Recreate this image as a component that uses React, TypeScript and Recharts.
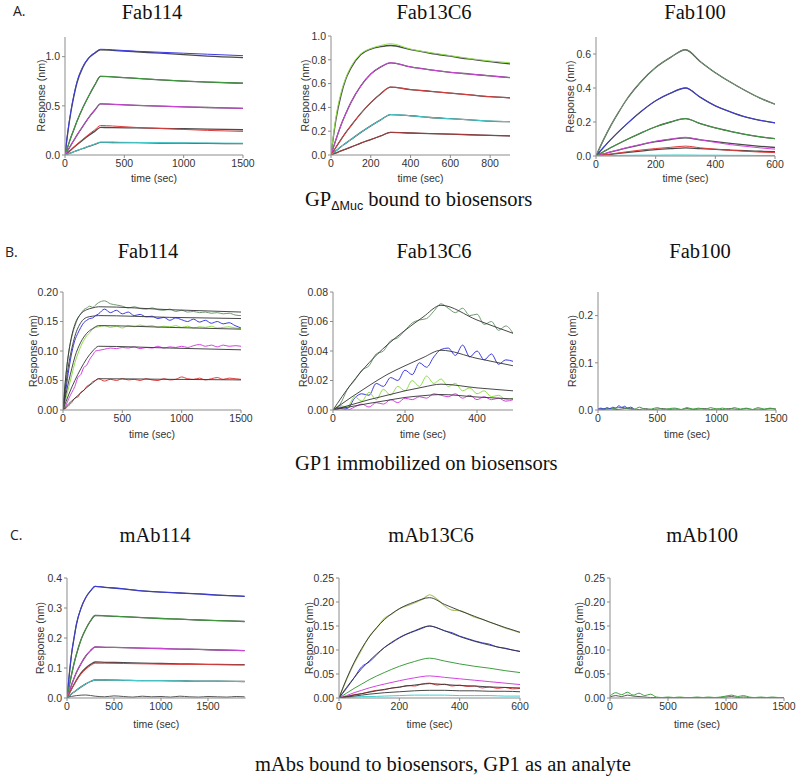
import React from 'react';
import { LineChart, Line, XAxis, YAxis } from 'recharts';

// ---------- Colours ----------
const BLUE = '#3b3be6';
const GREEN = '#3f9f3f';
const LGREEN = '#8fdc4a';
const MAGENTA = '#d444e0';
const RED = '#e23c3c';
const CYAN = '#45cfd0';
const GRAYGREEN = '#6f9a70';
const BROWN = '#a83a3a';
const OLIVE = '#a9c46a';
const FIT = '#4a4a4a';

// ---------- A1: Fab114 (GP dMuc) ----------
const A1_T = [0, 25, 50, 75, 100, 150, 200, 250, 300, 400, 600, 800, 1000, 1200, 1500];
const A1_BLUE = [0, 0.25, 0.45, 0.61, 0.74, 0.9, 0.99, 1.04, 1.075, 1.07, 1.055, 1.045, 1.035, 1.025, 1.01];
const A1_BLUE_FIT = [0, 0.24, 0.44, 0.6, 0.73, 0.89, 0.985, 1.035, 1.07, 1.065, 1.05, 1.035, 1.02, 1.005, 0.99];
const A1_GREEN = [0, 0.09, 0.18, 0.26, 0.34, 0.48, 0.6, 0.71, 0.8, 0.795, 0.78, 0.765, 0.752, 0.742, 0.73];
const A1_MAGENTA = [0, 0.05, 0.1, 0.15, 0.2, 0.29, 0.38, 0.455, 0.52, 0.515, 0.505, 0.497, 0.49, 0.483, 0.475];
const A1_RED = [0, 0.028, 0.055, 0.083, 0.11, 0.16, 0.21, 0.255, 0.3, 0.295, 0.28, 0.27, 0.26, 0.25, 0.24];
const A1_RED_FIT = [0, 0.026, 0.052, 0.078, 0.104, 0.152, 0.198, 0.24, 0.28, 0.279, 0.275, 0.271, 0.267, 0.263, 0.257];
const A1_CYAN = [0, 0.011, 0.022, 0.033, 0.045, 0.067, 0.09, 0.11, 0.13, 0.13, 0.128, 0.126, 0.124, 0.122, 0.12];
const A1_CYAN_FIT = [0, 0.011, 0.022, 0.033, 0.044, 0.066, 0.088, 0.108, 0.128, 0.127, 0.125, 0.122, 0.12, 0.118, 0.115];

// ---------- A2: Fab13C6 ----------
const A2_T = [0, 25, 50, 75, 100, 150, 200, 250, 300, 400, 500, 600, 700, 800, 900];
const A2_TOP = [0, 0.32, 0.52, 0.65, 0.74, 0.85, 0.895, 0.92, 0.935, 0.89, 0.86, 0.835, 0.81, 0.79, 0.775];
const A2_TOP_FIT = [0, 0.3, 0.5, 0.64, 0.73, 0.845, 0.89, 0.91, 0.92, 0.885, 0.855, 0.83, 0.805, 0.785, 0.765];
const A2_MAGENTA = [0, 0.13, 0.25, 0.35, 0.44, 0.58, 0.68, 0.74, 0.775, 0.74, 0.715, 0.695, 0.68, 0.665, 0.65];
const A2_RED = [0, 0.065, 0.13, 0.19, 0.245, 0.35, 0.44, 0.515, 0.57, 0.55, 0.535, 0.52, 0.505, 0.49, 0.48];
const A2_CYAN = [0, 0.035, 0.07, 0.1, 0.13, 0.19, 0.245, 0.295, 0.34, 0.33, 0.315, 0.305, 0.295, 0.285, 0.28];
const A2_BROWN = [0, 0.017, 0.034, 0.05, 0.066, 0.1, 0.13, 0.16, 0.19, 0.185, 0.18, 0.175, 0.17, 0.165, 0.16];

// ---------- A3: Fab100 ----------
const A3_T = [0, 25, 50, 75, 100, 150, 200, 250, 300, 350, 400, 450, 500, 550, 600];
const A3_TOP = [0, 0.095, 0.18, 0.255, 0.325, 0.435, 0.52, 0.58, 0.625, 0.555, 0.49, 0.435, 0.385, 0.34, 0.305];
const A3_BLUE = [0, 0.05, 0.098, 0.142, 0.183, 0.26, 0.325, 0.37, 0.4, 0.345, 0.295, 0.26, 0.23, 0.21, 0.195];
const A3_GREEN = [0, 0.025, 0.05, 0.072, 0.094, 0.135, 0.172, 0.2, 0.22, 0.19, 0.165, 0.145, 0.127, 0.113, 0.102];
const A3_MAGENTA = [0, 0.012, 0.025, 0.036, 0.048, 0.068, 0.087, 0.1, 0.11, 0.095, 0.08, 0.067, 0.057, 0.048, 0.04];
const A3_MAG_FIT = [0, 0.012, 0.024, 0.035, 0.046, 0.066, 0.084, 0.097, 0.107, 0.095, 0.084, 0.074, 0.065, 0.057, 0.05];
const A3_RED = [0, 0.006, 0.012, 0.018, 0.024, 0.035, 0.044, 0.051, 0.058, 0.048, 0.04, 0.033, 0.028, 0.023, 0.02];
const A3_RED_FIT = [0, 0.005, 0.01, 0.015, 0.02, 0.029, 0.037, 0.043, 0.048, 0.043, 0.039, 0.035, 0.031, 0.028, 0.025];
const A3_CYAN = [0, 0.002, 0.003, 0.004, 0.004, 0.005, 0.005, 0.006, 0.006, 0.005, 0.005, 0.004, 0.004, 0.003, 0.003];

// ---------- B1: Fab114 (GP1 immobilized) ----------
const B1_T = [0, 25, 50, 75, 100, 125, 150, 175, 200, 225, 250, 275, 300, 350, 400, 450, 500, 550, 600, 650, 700, 750, 800, 850, 900, 950, 1000, 1050, 1100, 1150, 1200, 1250, 1300, 1350, 1400, 1450, 1500];
const B1_GG = [0, 0.06, 0.1, 0.125, 0.142, 0.155, 0.163, 0.17, 0.173, 0.176, 0.174, 0.178, 0.182, 0.185, 0.18, 0.178, 0.176, 0.173, 0.175, 0.172, 0.171, 0.173, 0.17, 0.169, 0.171, 0.167, 0.169, 0.166, 0.167, 0.165, 0.166, 0.164, 0.165, 0.163, 0.164, 0.161, 0.16];
const B1_BLUE = [0, 0.035, 0.07, 0.098, 0.118, 0.13, 0.14, 0.148, 0.152, 0.155, 0.156, 0.16, 0.163, 0.171, 0.165, 0.169, 0.163, 0.166, 0.16, 0.162, 0.158, 0.159, 0.155, 0.157, 0.152, 0.156, 0.153, 0.15, 0.154, 0.149, 0.152, 0.147, 0.15, 0.146, 0.148, 0.143, 0.139];
const B1_LG = [0, 0.02, 0.04, 0.06, 0.08, 0.095, 0.108, 0.118, 0.126, 0.131, 0.137, 0.14, 0.141, 0.143, 0.14, 0.142, 0.139, 0.143, 0.141, 0.144, 0.142, 0.143, 0.14, 0.142, 0.141, 0.143, 0.14, 0.142, 0.139, 0.141, 0.14, 0.142, 0.139, 0.14, 0.141, 0.139, 0.138];
const B1_MAG = [0, 0.008, 0.02, 0.03, 0.04, 0.055, 0.06, 0.072, 0.076, 0.086, 0.093, 0.1, 0.101, 0.103, 0.105, 0.104, 0.106, 0.105, 0.107, 0.104, 0.106, 0.105, 0.108, 0.105, 0.107, 0.106, 0.108, 0.106, 0.109, 0.111, 0.108, 0.11, 0.107, 0.11, 0.108, 0.109, 0.108];
const B1_RED = [0, 0.003, 0.008, 0.013, 0.02, 0.022, 0.03, 0.033, 0.04, 0.043, 0.048, 0.05, 0.053, 0.049, 0.052, 0.05, 0.053, 0.051, 0.052, 0.05, 0.053, 0.051, 0.05, 0.053, 0.051, 0.052, 0.056, 0.053, 0.052, 0.054, 0.051, 0.053, 0.055, 0.052, 0.054, 0.053, 0.052];
const B1_FT = [0, 25, 50, 75, 100, 150, 200, 250, 300, 900, 1500];
const B1_F1 = [0, 0.06, 0.1, 0.127, 0.145, 0.163, 0.17, 0.173, 0.175, 0.17, 0.166];
const B1_F2 = [0, 0.045, 0.08, 0.105, 0.125, 0.148, 0.157, 0.159, 0.16, 0.157, 0.155];
const B1_F3 = [0, 0.027, 0.05, 0.071, 0.09, 0.115, 0.13, 0.138, 0.143, 0.14, 0.137];
const B1_F4 = [0, 0.014, 0.027, 0.039, 0.05, 0.07, 0.087, 0.1, 0.108, 0.105, 0.102];
const B1_F5 = [0, 0.0055, 0.011, 0.0155, 0.02, 0.029, 0.038, 0.046, 0.053, 0.052, 0.051];

// ---------- B2: Fab13C6 ----------
const B2_T = [0, 20, 40, 60, 80, 100, 120, 140, 160, 180, 200, 220, 240, 260, 280, 300, 320, 340, 360, 380, 400, 420, 440, 460, 480, 500];
const B2_GG = [0, 0.004, 0.014, 0.02, 0.027, 0.03, 0.038, 0.04, 0.047, 0.049, 0.054, 0.059, 0.061, 0.062, 0.067, 0.072, 0.069, 0.066, 0.069, 0.064, 0.065, 0.058, 0.06, 0.054, 0.057, 0.052];
const B2_BLUE = [0, 0.002, 0.001, 0.008, 0.011, 0.01, 0.018, 0.016, 0.022, 0.02, 0.027, 0.024, 0.032, 0.029, 0.036, 0.041, 0.042, 0.037, 0.044, 0.036, 0.04, 0.034, 0.038, 0.031, 0.034, 0.033];
const B2_LG = [0, 0.003, 0.002, 0.009, 0.006, 0.012, 0.007, 0.014, 0.01, 0.016, 0.013, 0.02, 0.016, 0.023, 0.018, 0.021, 0.016, 0.018, 0.013, 0.015, 0.011, 0.013, 0.009, 0.01, 0.007, 0.008];
const B2_MAG = [0, 0.001, 0, 0.002, 0.004, 0.002, 0.005, 0.004, 0.007, 0.005, 0.008, 0.007, 0.009, 0.008, 0.011, 0.01, 0.009, 0.011, 0.008, 0.01, 0.007, 0.009, 0.007, 0.008, 0.006, 0.007];
const B2_FT = [0, 50, 100, 150, 200, 250, 300, 400, 500];
const B2_F1 = [0, 0.0175, 0.032, 0.044, 0.054, 0.063, 0.071, 0.061, 0.052];
const B2_F2 = [0, 0.0085, 0.0165, 0.024, 0.03, 0.0355, 0.0405, 0.035, 0.03];
const B2_F3 = [0, 0.0035, 0.007, 0.01, 0.013, 0.0155, 0.0175, 0.015, 0.013];
const B2_F4 = [0, 0.0023, 0.0045, 0.0065, 0.0085, 0.0097, 0.0105, 0.0088, 0.0075];

// ---------- B3: Fab100 ----------
const B3_T = [0, 50, 100, 150, 200, 250, 300, 350, 400, 450, 500, 550, 600, 650, 700, 750, 800, 850, 900, 950, 1000, 1050, 1100, 1150, 1200, 1250, 1300, 1350, 1400, 1450, 1500];
const B3_GREEN = [0.001, 0.003, 0.002, 0.004, 0.006, 0.003, 0.001, 0.006, 0.001, 0.002, 0.005, 0.001, 0.003, 0.004, 0.001, 0.005, 0.002, 0.004, 0.001, 0.005, 0.002, 0.004, 0.001, 0.005, 0.002, 0.004, 0.001, 0.005, 0.002, 0.004, 0.001];
const B3_DARK = [0.002, 0.001, 0.003, 0.001, 0.002, 0.004, 0.002, 0.001, 0.003, 0.001, 0.002, 0.003, 0.001, 0.002, 0.001, 0.003, 0.001, 0.002, 0.003, 0.001, 0.002, 0.001, 0.003, 0.002, 0.001, 0.003, 0.001, 0.002, 0.001, 0.003, 0.002];
const B3_BT = [0, 25, 50, 75, 100, 125, 150, 175, 200, 225, 250, 275, 300];
const B3_BLUE = [0.002, 0.004, 0.002, 0.005, 0.003, 0.006, 0.004, 0.009, 0.005, 0.008, 0.004, 0.006, 0.003];

// ---------- C1: mAb114 ----------
const C1_T = [0, 25, 50, 75, 100, 150, 200, 250, 300, 400, 600, 800, 1000, 1200, 1400, 1600, 1890];
const C1_BLUE = [0, 0.08, 0.15, 0.2, 0.245, 0.3, 0.335, 0.357, 0.372, 0.369, 0.364, 0.357, 0.353, 0.35, 0.347, 0.343, 0.339];
const C1_GREEN = [0, 0.042, 0.08, 0.115, 0.145, 0.195, 0.23, 0.257, 0.275, 0.274, 0.271, 0.268, 0.265, 0.263, 0.26, 0.258, 0.255];
const C1_MAGENTA = [0, 0.023, 0.045, 0.066, 0.085, 0.115, 0.14, 0.158, 0.17, 0.169, 0.168, 0.166, 0.165, 0.163, 0.162, 0.16, 0.158];
const C1_RED = [0, 0.015, 0.03, 0.044, 0.057, 0.08, 0.096, 0.108, 0.116, 0.116, 0.115, 0.114, 0.113, 0.112, 0.112, 0.111, 0.11];
const C1_RED_FIT = [0, 0.016, 0.031, 0.046, 0.06, 0.084, 0.1, 0.112, 0.12, 0.119, 0.118, 0.116, 0.115, 0.114, 0.113, 0.112, 0.111];
const C1_CYAN = [0, 0.007, 0.014, 0.02, 0.026, 0.037, 0.047, 0.055, 0.06, 0.06, 0.059, 0.058, 0.058, 0.057, 0.056, 0.056, 0.055];
const C1_NT = [0, 100, 200, 300, 400, 500, 600, 700, 800, 900, 1000, 1100, 1200, 1300, 1400, 1500, 1600, 1700, 1800, 1890];
const C1_DARK = [0.002, 0.008, 0.01, 0.006, 0.004, 0.007, 0.005, 0.003, 0.006, 0.004, 0.005, 0.003, 0.006, 0.004, 0.003, 0.005, 0.004, 0.003, 0.005, 0.004];

// ---------- C2: mAb13C6 ----------
const C2_T = [0, 25, 50, 75, 100, 125, 150, 175, 200, 225, 250, 275, 300, 325, 350, 375, 400, 425, 450, 475, 500, 525, 550, 575, 600];
const C2_TOP = [0, 0.038, 0.072, 0.1, 0.128, 0.146, 0.166, 0.175, 0.186, 0.192, 0.198, 0.205, 0.215, 0.206, 0.192, 0.183, 0.182, 0.176, 0.168, 0.164, 0.158, 0.152, 0.146, 0.141, 0.136];
const C2_BLUE = [0, 0.02, 0.042, 0.065, 0.075, 0.09, 0.105, 0.115, 0.125, 0.133, 0.139, 0.145, 0.15, 0.146, 0.14, 0.136, 0.129, 0.124, 0.119, 0.115, 0.112, 0.106, 0.104, 0.1, 0.097];
const C2_RED = [0, 0.003, 0.007, 0.009, 0.013, 0.016, 0.017, 0.021, 0.022, 0.026, 0.025, 0.029, 0.031, 0.027, 0.029, 0.025, 0.027, 0.024, 0.025, 0.021, 0.023, 0.02, 0.022, 0.019, 0.02];
const C2_FT = [0, 25, 50, 75, 100, 150, 200, 250, 300, 350, 400, 450, 500, 550, 600];
const C2_TOP_FIT = [0, 0.04, 0.074, 0.103, 0.127, 0.163, 0.186, 0.2, 0.209, 0.195, 0.182, 0.17, 0.158, 0.147, 0.137];
const C2_BLUE_FIT = [0, 0.022, 0.042, 0.061, 0.077, 0.105, 0.126, 0.14, 0.15, 0.14, 0.128, 0.118, 0.11, 0.103, 0.097];
const C2_GREEN = [0, 0.01, 0.02, 0.029, 0.038, 0.053, 0.066, 0.076, 0.083, 0.077, 0.071, 0.066, 0.062, 0.057, 0.053];
const C2_MAGENTA = [0, 0.005, 0.011, 0.016, 0.021, 0.029, 0.036, 0.042, 0.046, 0.043, 0.04, 0.037, 0.034, 0.031, 0.028];
const C2_RED_FIT = [0, 0.003, 0.006, 0.009, 0.012, 0.018, 0.023, 0.027, 0.03, 0.028, 0.026, 0.025, 0.023, 0.022, 0.021];
const C2_DARK = [0, 0.002, 0.004, 0.006, 0.008, 0.011, 0.013, 0.015, 0.016, 0.016, 0.015, 0.015, 0.014, 0.014, 0.013];
const C2_CYAN = [0, 0.001, 0.002, 0.003, 0.003, 0.004, 0.005, 0.006, 0.006, 0.006, 0.005, 0.005, 0.005, 0.004, 0.004];

// ---------- C3: mAb100 ----------
const C3_T = [0, 50, 100, 150, 200, 250, 300, 350, 400, 450, 500, 550, 600, 650, 700, 750, 800, 850, 900, 950, 1000, 1050, 1100, 1150, 1200, 1250, 1300, 1350, 1400, 1450, 1500];
const C3_GREEN = [0.004, 0.011, 0.007, 0.012, 0.006, 0.01, 0.005, 0.008, 0.002, 0.001, 0.002, 0.001, 0.002, 0.001, 0.001, 0.002, 0.001, 0.002, 0.001, 0.002, 0.004, 0.006, 0.003, 0.005, 0.002, 0.001, 0.002, 0.001, 0.002, 0.001, 0.001];
const C3_DARK = [0.002, 0.005, 0.003, 0.006, 0.004, 0.003, 0.002, 0.001, 0.001, 0.001, 0.001, 0.001, 0.001, 0.001, 0.001, 0.001, 0.001, 0.001, 0.001, 0.001, 0.002, 0.003, 0.001, 0.002, 0.001, 0.001, 0.001, 0.001, 0.001, 0.001, 0.001];

// ---------- Text ----------
const TITLES_A = ['Fab114', 'Fab13C6', 'Fab100'];
const TITLES_B = ['Fab114', 'Fab13C6', 'Fab100'];
const TITLES_C = ['mAb114', 'mAb13C6', 'mAb100'];
const Y_LABEL = 'Response (nm)';
const X_LABEL = 'time (sec)';

type S = { t: number[]; v: number[]; c: string; w: number };
type PanelCfg = {
  box: { x0: number; x1: number; yTop: number; yBot: number };
  xDomain: [number, number];
  xTicks: number[];
  yDomain: [number, number];
  yTicks: number[];
  dec: number;
  series: S[];
  title: string;
  titleX: number;
  titleY: number;
  yLabelX: number;
  xLabelY: number;
};

const d = (t: number[], v: number[], c: string, w = 1): S => ({ t, v, c, w });
const f = (t: number[], v: number[], w = 1.3): S => ({ t, v, c: FIT, w });
const fTop = (t: number[], v: number[]): S => ({ t, v, c: '#333', w: 0.9 });

const PANELS: PanelCfg[] = [
  {
    box: { x0: 65, x1: 243, yTop: 36.5, yBot: 154.5 }, xDomain: [0, 1500], xTicks: [0, 500, 1000, 1500],
    yDomain: [0, 1.2], yTicks: [0, 0.5, 1.0], dec: 1, title: TITLES_A[0], titleX: 152, titleY: 18.5, yLabelX: 41, xLabelY: 182,
    series: [
      f(A1_T, A1_BLUE_FIT), f(A1_T, A1_GREEN), f(A1_T, A1_MAGENTA), f(A1_T, A1_RED_FIT), f(A1_T, A1_CYAN_FIT),
      d(A1_T, A1_BLUE, BLUE), d(A1_T, A1_GREEN, GREEN), d(A1_T, A1_MAGENTA, MAGENTA), d(A1_T, A1_RED, RED), d(A1_T, A1_CYAN, CYAN),
    ],
  },
  {
    box: { x0: 331, x1: 510, yTop: 36, yBot: 155 }, xDomain: [0, 900], xTicks: [0, 200, 400, 600, 800],
    yDomain: [0, 1.0], yTicks: [0, 0.2, 0.4, 0.6, 0.8, 1.0], dec: 1, title: TITLES_A[1], titleX: 434, titleY: 18.5, yLabelX: 305, xLabelY: 182,
    series: [
      f(A2_T, A2_TOP_FIT), f(A2_T, A2_MAGENTA), f(A2_T, A2_RED), f(A2_T, A2_CYAN), f(A2_T, A2_BROWN),
      d(A2_T, A2_TOP, LGREEN), d(A2_T, A2_MAGENTA, MAGENTA), d(A2_T, A2_RED, RED), d(A2_T, A2_CYAN, CYAN), d(A2_T, A2_BROWN, BROWN),
    ],
  },
  {
    box: { x0: 596, x1: 775, yTop: 37, yBot: 156 }, xDomain: [0, 600], xTicks: [0, 200, 400, 600],
    yDomain: [0, 0.7], yTicks: [0, 0.2, 0.4, 0.6], dec: 1, title: TITLES_A[2], titleX: 695, titleY: 18.5, yLabelX: 570, xLabelY: 182,
    series: [
      f(A3_T, A3_TOP), f(A3_T, A3_BLUE), f(A3_T, A3_GREEN), f(A3_T, A3_MAG_FIT), f(A3_T, A3_RED_FIT),
      d(A3_T, A3_TOP, GRAYGREEN), d(A3_T, A3_BLUE, BLUE), d(A3_T, A3_GREEN, GREEN), d(A3_T, A3_MAGENTA, MAGENTA), d(A3_T, A3_RED, RED), d(A3_T, A3_CYAN, CYAN),
    ],
  },
  {
    box: { x0: 63, x1: 241, yTop: 292, yBot: 410 }, xDomain: [0, 1500], xTicks: [0, 500, 1000, 1500],
    yDomain: [0, 0.2], yTicks: [0, 0.05, 0.1, 0.15, 0.2], dec: 2, title: TITLES_B[0], titleX: 148, titleY: 258, yLabelX: 33, xLabelY: 438,
    series: [
      d(B1_T, B1_GG, GRAYGREEN), d(B1_T, B1_BLUE, BLUE), d(B1_T, B1_LG, LGREEN), d(B1_T, B1_MAG, MAGENTA), d(B1_T, B1_RED, RED),
      fTop(B1_FT, B1_F1), fTop(B1_FT, B1_F2), fTop(B1_FT, B1_F3), fTop(B1_FT, B1_F4), fTop(B1_FT, B1_F5),
    ],
  },
  {
    box: { x0: 333, x1: 513, yTop: 292, yBot: 410 }, xDomain: [0, 500], xTicks: [0, 200, 400],
    yDomain: [0, 0.08], yTicks: [0, 0.02, 0.04, 0.06, 0.08], dec: 2, title: TITLES_B[1], titleX: 434, titleY: 258, yLabelX: 303, xLabelY: 438,
    series: [
      d(B2_T, B2_GG, GRAYGREEN), d(B2_T, B2_BLUE, BLUE), d(B2_T, B2_LG, LGREEN), d(B2_T, B2_MAG, MAGENTA),
      fTop(B2_FT, B2_F1), fTop(B2_FT, B2_F2), fTop(B2_FT, B2_F3), fTop(B2_FT, B2_F4),
    ],
  },
  {
    box: { x0: 598, x1: 776, yTop: 292, yBot: 410 }, xDomain: [0, 1500], xTicks: [0, 500, 1000, 1500],
    yDomain: [0, 0.25], yTicks: [0, 0.1, 0.2], dec: 1, title: TITLES_B[2], titleX: 700, titleY: 258, yLabelX: 572, xLabelY: 438,
    series: [
      d(B3_T, B3_DARK, '#555'), d(B3_T, B3_GREEN, GREEN), d(B3_BT, B3_BLUE, BLUE),
    ],
  },
  {
    box: { x0: 67, x1: 245.6, yTop: 578, yBot: 698 }, xDomain: [0, 1900], xTicks: [0, 500, 1000, 1500],
    yDomain: [0, 0.4], yTicks: [0, 0.1, 0.2, 0.3, 0.4], dec: 1, title: TITLES_C[0], titleX: 155, titleY: 542, yLabelX: 40, xLabelY: 728,
    series: [
      f(C1_T, C1_BLUE), f(C1_T, C1_GREEN), f(C1_T, C1_MAGENTA), f(C1_T, C1_RED_FIT), f(C1_T, C1_CYAN),
      d(C1_T, C1_BLUE, BLUE), d(C1_T, C1_GREEN, GREEN), d(C1_T, C1_MAGENTA, MAGENTA), d(C1_T, C1_RED, RED), d(C1_T, C1_CYAN, CYAN),
      d(C1_NT, C1_DARK, '#555'),
    ],
  },
  {
    box: { x0: 339, x1: 520, yTop: 578, yBot: 698 }, xDomain: [0, 600], xTicks: [0, 200, 400, 600],
    yDomain: [0, 0.25], yTicks: [0, 0.05, 0.1, 0.15, 0.2, 0.25], dec: 2, title: TITLES_C[1], titleX: 431, titleY: 542, yLabelX: 309, xLabelY: 728,
    series: [
      d(C2_T, C2_TOP, OLIVE, 1.1), d(C2_T, C2_BLUE, BLUE), d(C2_FT, C2_GREEN, GREEN), d(C2_FT, C2_MAGENTA, MAGENTA), d(C2_T, C2_RED, RED),
      d(C2_FT, C2_CYAN, CYAN),
      fTop(C2_FT, C2_TOP_FIT), fTop(C2_FT, C2_BLUE_FIT), fTop(C2_FT, C2_RED_FIT), fTop(C2_FT, C2_DARK),
    ],
  },
  {
    box: { x0: 610, x1: 784, yTop: 578, yBot: 698 }, xDomain: [0, 1500], xTicks: [0, 500, 1000, 1500],
    yDomain: [0, 0.25], yTicks: [0, 0.05, 0.1, 0.15, 0.2, 0.25], dec: 2, title: TITLES_C[2], titleX: 702, titleY: 542, yLabelX: 579, xLabelY: 728,
    series: [d(C3_T, C3_DARK, '#555'), d(C3_T, C3_GREEN, GREEN)],
  },
];

const AX = '#8c8c8c';
const SANS = '"Liberation Sans", Arial, Helvetica, sans-serif';
const SERIF = '"Liberation Serif", "Times New Roman", serif';
const TICK = { fontSize: 10.5, fill: '#333', fontFamily: SANS };

const rows = (t: number[], v: number[]) => t.map((x, i) => ({ t: x, v: v[i] }));

const ML = 50;
const MR = 12;
const MT = 8;
const XH = 30;

function Panel({ p }: { p: PanelCfg }) {
  const { box } = p;
  const w = box.x1 - box.x0 + ML + MR;
  const h = box.yBot - box.yTop + MT + XH;
  return (
    <div style={{ position: 'absolute', left: box.x0 - ML, top: box.yTop - MT }}>
      <LineChart width={w} height={h} margin={{ top: MT, right: MR, bottom: 0, left: 0 }}>
        <XAxis
          type="number"
          dataKey="t"
          domain={p.xDomain}
          ticks={p.xTicks}
          interval={0}
          allowDataOverflow
          height={XH}
          tickSize={3}
          tickMargin={2}
          axisLine={{ stroke: AX }}
          tickLine={{ stroke: AX }}
          tick={TICK}
        />
        <YAxis
          type="number"
          domain={p.yDomain}
          ticks={p.yTicks}
          interval={0}
          allowDataOverflow
          width={ML}
          tickSize={3}
          tickMargin={2}
          axisLine={{ stroke: AX }}
          tickLine={{ stroke: AX }}
          tick={TICK}
          tickFormatter={(v: number) => v.toFixed(p.dec)}
        />
        {p.series.map((s, i) => (
          <Line
            key={i}
            data={rows(s.t, s.v)}
            dataKey="v"
            type="monotone"
            stroke={s.c}
            strokeWidth={s.w}
            dot={false}
            activeDot={false}
            isAnimationActive={false}
          />
        ))}
      </LineChart>
    </div>
  );
}

export default function App() {
  return (
    <div style={{ position: 'absolute', left: 0, top: 0, width: 800, height: 776, background: '#fff', overflow: 'hidden' }}>
      {PANELS.map((p, i) => (
        <Panel key={i} p={p} />
      ))}
      <svg width={800} height={776} style={{ position: 'absolute', left: 0, top: 0, pointerEvents: 'none' }}>
        <text x={13} y={16} fontFamily="'Open Sans', Lato, sans-serif" fontSize={14} fill="#222">A.</text>
        <text x={5} y={257} fontFamily="'Open Sans', Lato, sans-serif" fontSize={14} fill="#222">B.</text>
        <text x={10} y={540} fontFamily="'Open Sans', Lato, sans-serif" fontSize={14} fill="#222">C.</text>
        {PANELS.map((p, i) => (
          <g key={i}>
            <text x={p.titleX} y={p.titleY} textAnchor="middle" fontFamily={SERIF} fontSize={20.5} fill="#111">
              {p.title}
            </text>
            <text
              transform={`translate(${p.yLabelX + 3.5},${(p.box.yTop + p.box.yBot) / 2}) rotate(-90)`}
              textAnchor="middle"
              fontFamily={SANS}
              fontSize={10.5}
              fill="#333"
            >
              {Y_LABEL}
            </text>
            <text x={(p.box.x0 + p.box.x1) / 2} y={p.xLabelY} textAnchor="middle" fontFamily={SANS} fontSize={10.5} fill="#333">
              {X_LABEL}
            </text>
          </g>
        ))}
        <text x={305} y={206} fontFamily={SERIF} fontSize={20.5} fill="#111">
          GP
          <tspan fontFamily={SANS} fontSize={12.5} dy={4}>ΔMuc</tspan>
          <tspan dy={-4}> bound to biosensors</tspan>
        </text>
        <text x={295} y={470} fontFamily={SERIF} fontSize={20.5} fill="#111">GP1 immobilized on biosensors</text>
        <text x={255} y={771} fontFamily={SERIF} fontSize={20.5} fill="#111">mAbs bound to biosensors, GP1 as an analyte</text>
      </svg>
    </div>
  );
}
